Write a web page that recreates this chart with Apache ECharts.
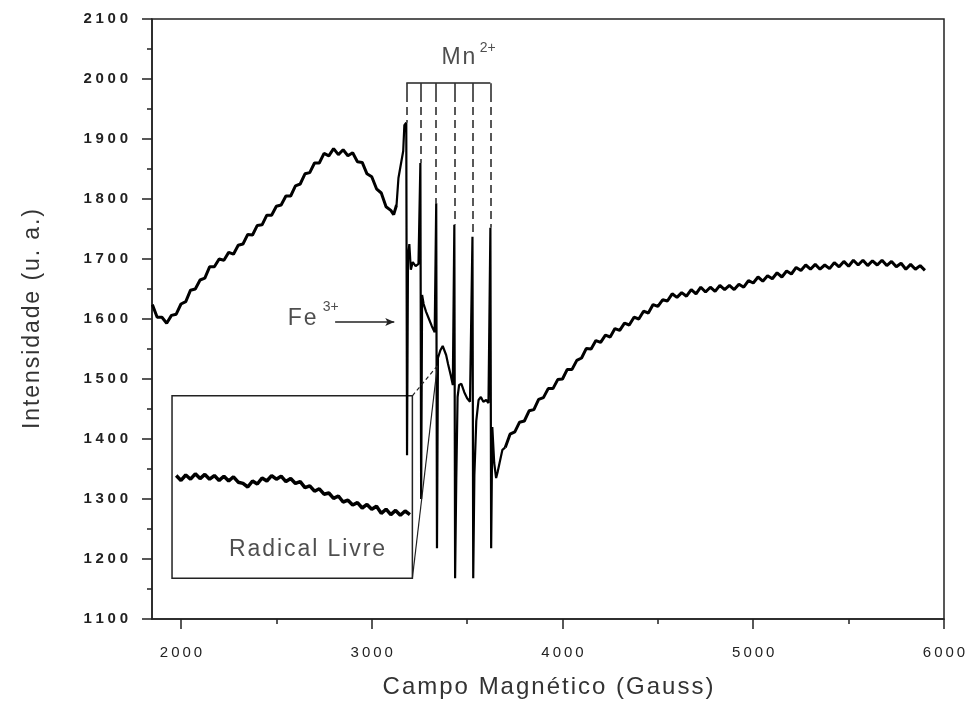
<!DOCTYPE html>
<html>
<head>
<meta charset="utf-8">
<script src="https://cdn.jsdelivr.net/npm/echarts@6/dist/echarts.min.js"></script>
<style>html,body{margin:0;padding:0;background:#fff;}#c{width:971px;height:704px;}</style>
</head>
<body>
<div id="c"></div>
<script>
// ---- data (Campo Magnético in Gauss, Intensidade in u. a.) ----
const preField = [1850,1875,1900,1925,1950,1975,2000,2025,2050,2075,2100,2125,2150,2175,2200,2225,2250,2275,2300,2325,2350,2375,2400,2425,2450,2475,2500,2525,2550,2575,2600,2625,2650,2675,2700,2725,2750,2775,2800,2825,2850,2875,2900,2925,2950,2975,3000,3025,3050,3075,3100,3115,3130];
const preInt   = [1624,1603,1603,1593,1606,1608,1625,1629,1648,1650,1665,1668,1687,1687,1700,1698,1711,1708,1723,1725,1741,1740,1756,1757,1773,1773,1788,1790,1805,1805,1822,1825,1842,1844,1860,1860,1876,1872,1884,1874,1882,1872,1877,1862,1861,1842,1837,1817,1810,1787,1781,1774,1790];

const mnField = [3140,3155,3165,3171,3181,3185,3190,3197,3205,3215,3230,3245,3255,3259,3264,3272,3285,3300,3315,3330,3338,3342,3347,3360,3372,3380,3390,3400,3415,3425,3433,3437,3443,3450,3458,3470,3485,3500,3515,3524,3528,3532,3538,3548,3560,3572,3585,3600,3612,3622,3626,3632,3642,3652,3660,3670,3685];
const mnInt   = [1835,1862,1880,1923,1927,1373,1700,1725,1682,1695,1688,1692,1860,1300,1640,1625,1612,1600,1588,1578,1793,1218,1535,1548,1555,1558,1540,1525,1505,1490,1757,1168,1330,1470,1490,1492,1478,1468,1462,1460,1737,1168,1340,1430,1465,1470,1462,1465,1460,1752,1218,1420,1360,1335,1345,1360,1382];

const postField = [3700,3725,3750,3775,3800,3825,3850,3875,3900,3925,3950,3975,4000,4025,4050,4075,4100,4125,4150,4175,4200,4225,4250,4275,4300,4325,4350,4375,4400,4425,4450,4475,4500,4525,4550,4575,4600,4625,4650,4675,4700,4725,4750,4775,4800,4825,4850,4875,4900,4925,4950,4975,5000,5025,5050,5075,5100,5125,5150,5175,5200,5225,5250,5275,5300,5325,5350,5375,5400,5425,5450,5475,5500,5525,5550,5575,5600,5625,5650,5675,5700,5725,5750,5775,5800,5825,5850,5875,5900];
const postInt   = [1386,1408,1412,1428,1430,1447,1449,1466,1469,1484,1484,1499,1500,1516,1516,1531,1535,1551,1550,1564,1561,1573,1570,1584,1581,1593,1590,1603,1600,1613,1610,1624,1621,1632,1630,1642,1636,1644,1638,1649,1642,1653,1645,1653,1646,1656,1649,1656,1649,1658,1653,1664,1660,1670,1663,1672,1667,1677,1670,1680,1675,1686,1681,1690,1683,1691,1683,1690,1684,1694,1687,1696,1688,1698,1690,1698,1689,1697,1690,1698,1689,1696,1687,1693,1683,1691,1683,1689,1681];

// inset ("Radical Livre") trace, drawn in the main axes' units
const insetField = [1975,2000,2025,2050,2075,2100,2125,2150,2175,2200,2225,2250,2275,2300,2325,2350,2375,2400,2425,2450,2475,2500,2525,2550,2575,2600,2625,2650,2675,2700,2725,2750,2775,2800,2825,2850,2875,2900,2925,2950,2975,3000,3025,3050,3075,3100,3125,3150,3175,3200];
const insetInt   = [1339,1331,1340,1333,1342,1334,1341,1333,1339,1331,1338,1330,1337,1328,1326,1320,1330,1325,1335,1330,1339,1333,1338,1329,1334,1326,1329,1319,1322,1313,1317,1308,1310,1301,1305,1295,1298,1290,1294,1285,1291,1283,1288,1276,1283,1274,1281,1273,1280,1274];
const insetBox = [[1953, 1168], [3213, 1472]];
const insetFocus = [3344, 1522];

// Mn2+ hyperfine marker lines
const mnLinePos = [3181, 3255, 3338, 3433, 3528, 3622];
const mnLineTop = [1927, 1860, 1793, 1757, 1737, 1752];
const mnBracket = 1993;
const mnTick = 1975;

// Fe3+ arrow
const feArrow = [[2808, 1595], [3118, 1595]];

// tick labels
const xMajor = [2000, 3000, 4000, 5000, 6000];
const xMinor = [2500, 3500, 4500, 5500];

const FONT = '"Liberation Sans", Arial, sans-serif';
const zip = (a, b) => a.map((v, i) => [v, b[i]]);
const preData = zip(preField, preInt);
const mnData = zip(mnField, mnInt);
const postData = zip(postField, postInt);
// Mn segment shares its end points with the neighbouring segments so the trace is continuous
const mnSegment = [preData[preData.length - 1]].concat(mnData, [postData[0]]);
const spaced = v => String(v).split('').join('\u2009');
const wide = v => String(v).split('').join('\u2005');
const hair = v => String(v).split('').join('\u200a');

const dashLines = mnLinePos.map((x, i) => [{coord: [x, mnTick]}, {coord: [x, mnLineTop[i]]}]);
const solidLines = mnLinePos.map(x => [{coord: [x, mnBracket]}, {coord: [x, mnTick]}]);
solidLines.push([{coord: [mnLinePos[0], mnBracket]}, {coord: [mnLinePos[5], mnBracket]}]);

const lineBase = {type: 'line', showSymbol: false, symbol: 'none', silent: true};

const chart = echarts.init(document.getElementById('c'), null, {renderer: 'canvas'});
chart.setOption({
  backgroundColor: '#fff',
  animation: false,
  grid: {left: 152, right: 27, top: 19, bottom: 85, show: true, borderColor: '#222', borderWidth: 1.5},
  xAxis: [{
    type: 'value', min: 1848, max: 6000, position: 'bottom',
    name: hair('Campo Magnético (Gauss)'), nameLocation: 'middle', nameGap: 56,
    nameTextStyle: {fontFamily: FONT, fontSize: 24, color: '#333'},
    axisLine: {lineStyle: {color: '#222', width: 1.5}},
    axisTick: {length: 10, customValues: xMajor, lineStyle: {color: '#222', width: 1.5}},
    axisLabel: {customValues: xMajor, margin: 26, fontFamily: FONT, fontSize: 15, color: '#222', formatter: spaced},
    splitLine: {show: false}
  }, {
    type: 'value', min: 1848, max: 6000, position: 'bottom',
    axisLine: {show: false},
    axisTick: {length: 5, customValues: xMinor, lineStyle: {color: '#222', width: 1.5}},
    axisLabel: {show: false},
    splitLine: {show: false}
  }],
  yAxis: {
    type: 'value', min: 1100, max: 2100, interval: 100,
    name: hair('Intensidade (u. a.)'), nameLocation: 'middle', nameGap: 108,
    nameTextStyle: {fontFamily: FONT, fontSize: 23, color: '#333'},
    axisLine: {lineStyle: {color: '#222', width: 1.5}},
    axisTick: {length: 10, lineStyle: {color: '#222', width: 1.5}},
    minorTick: {show: true, splitNumber: 2, length: 5, lineStyle: {color: '#222', width: 1.5}},
    axisLabel: {margin: 24, fontFamily: FONT, fontSize: 15, fontWeight: 'bold', color: '#222', formatter: wide},
    splitLine: {show: false}
  },
  series: [Object.assign({}, lineBase, {
    data: preData, lineStyle: {color: '#000', width: 3}
  }), Object.assign({}, lineBase, {
    data: mnSegment, lineStyle: {color: '#000', width: 2.2},
    markLine: {
      silent: true, symbol: ['none', 'none'], label: {show: false},
      lineStyle: {color: '#222', width: 1.5, type: [8, 5]},
      data: dashLines
    }
  }), Object.assign({}, lineBase, {
    data: postData, lineStyle: {color: '#000', width: 3}
  }), Object.assign({}, lineBase, {
    data: zip(insetField, insetInt), lineStyle: {color: '#000', width: 3.5},
    markArea: {
      silent: true,
      itemStyle: {color: 'rgba(0,0,0,0)', borderColor: '#222', borderWidth: 1.5},
      data: [[{coord: insetBox[0]}, {coord: insetBox[1]}]]
    },
    markLine: {
      silent: true, symbol: ['none', 'none'], label: {show: false},
      data: [
        [{coord: [insetBox[1][0], insetBox[0][1]], lineStyle: {type: 'solid', color: '#222', width: 1.2}}, {coord: insetFocus}],
        [{coord: [insetBox[1][0], insetBox[1][1]], lineStyle: {type: [4, 3], color: '#222', width: 1.2}}, {coord: insetFocus}]
      ]
    }
  }), Object.assign({}, lineBase, {
    data: [],
    markLine: {
      silent: true, symbol: ['none', 'none'], label: {show: false},
      lineStyle: {color: '#222', width: 1.5, type: 'solid'},
      data: solidLines.concat([[
        {coord: feArrow[0], symbol: 'none'},
        {coord: feArrow[1], symbol: 'arrow', symbolSize: [6, 9]}
      ]])
    }
  }), {
    type: 'scatter', symbolSize: 0, silent: true,
    label: {show: true, position: 'inside', fontFamily: FONT, color: '#222', formatter: p => p.value[2]},
    data: [
      {value: [2635, 1600, hair('Fe')], label: {fontSize: 23}},
      {value: [2785, 1620, '3+'], label: {fontSize: 14}},
      {value: [3454, 2035, hair('Mn')], label: {fontSize: 23}},
      {value: [3608, 2052, '2+'], label: {fontSize: 14}},
      {value: [2661, 1215, hair('Radical Livre')], label: {fontSize: 23}}
    ]
  }]
});
</script>
</body>
</html>
